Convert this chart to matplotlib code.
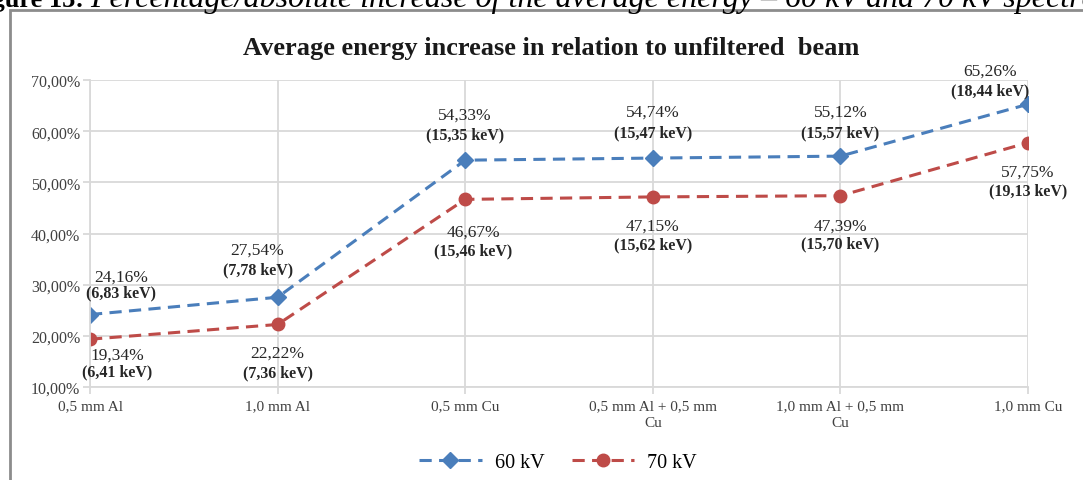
import matplotlib.pyplot as plt
from matplotlib.patches import Rectangle
from matplotlib.lines import Line2D
from matplotlib.ticker import FuncFormatter, MultipleLocator

# filter combinations on the x axis
filters = ["0,5 mm Al", "1,0 mm Al", "0,5 mm Cu",
           "0,5 mm Al + 0,5 mm\nCu", "1,0 mm Al + 0,5 mm\nCu", "1,0 mm Cu"]

# relative increase of the average energy (%) and the absolute value (keV)
inc_60kv = [24.16, 27.54, 54.33, 54.74, 55.12, 65.26]
kev_60kv = [6.83, 7.78, 15.35, 15.47, 15.57, 18.44]
inc_70kv = [19.34, 22.22, 46.67, 47.15, 47.39, 57.75]
kev_70kv = [6.41, 7.36, 15.46, 15.62, 15.70, 19.13]

# label placement in pixels: (dx, dy of the % line, dy of the keV line)
lbl_60kv = [(31, 38, 22), (-20, 48, 28), (0, 46, 26), (0, 46, 26), (0, 44, 24), (-38, 34, 14)]
lbl_70kv = [(27, -15, -32), (0, -28, -48), (8, -32, -51), (0, -29, -47), (0, -30, -48), (0, -29, -48)]

BLUE = "#4A7EBB"
RED = "#BE4B48"
GRID = "#D9D9D9"
TEXT = "#262626"
DASH = (0, (4, 2.4))

plt.rcParams["font.family"] = "Liberation Serif"

fig = plt.figure(figsize=(10.83, 4.81), dpi=100)
ax = fig.add_axes([90 / 1083, 1 - 388 / 481, (1028 - 90) / 1083, (388 - 81) / 481])

x = list(range(len(filters)))
ax.plot(x, inc_60kv, color=BLUE, lw=2.2, ls=DASH, marker="D", ms=8, label="60 kV")
ax.plot(x, inc_70kv, color=RED, lw=2.2, ls=DASH, marker="o", ms=9, label="70 kV")

def add_labels(vals, kevs, offsets):
    for i, (v, k, (dx, dy1, dy2)) in enumerate(zip(vals, kevs, offsets)):
        ax.annotate(f"{v:.2f}%".replace(".", ","), (i, v), xytext=(dx, dy1),
                    textcoords="offset pixels", ha="center", va="center",
                    fontsize=12.5, color=TEXT, annotation_clip=False)
        ax.annotate(f"({k:.2f} keV)".replace(".", ","), (i, v), xytext=(dx, dy2),
                    textcoords="offset pixels", ha="center", va="center",
                    fontsize=11.5, fontweight="bold", color=TEXT,
                    annotation_clip=False)

add_labels(inc_60kv, kev_60kv, lbl_60kv)
add_labels(inc_70kv, kev_70kv, lbl_70kv)

ax.set_xlim(0, len(filters) - 1)
ax.set_ylim(10, 70)
ax.yaxis.set_major_locator(MultipleLocator(10))
ax.yaxis.set_major_formatter(FuncFormatter(lambda v, _: f"{v:.2f}%".replace(".", ",")))
ax.set_xticks(x)
ax.set_xticklabels(filters, fontsize=11, linespacing=1.35)
ax.tick_params(axis="y", labelsize=11.5, length=5, color=GRID, width=1.3, pad=2)
ax.tick_params(axis="x", length=5, color=GRID, width=1.3, pad=4)
for lbl in ax.get_xticklabels() + ax.get_yticklabels():
    lbl.set_color("#404040")

ax.grid(True, color=GRID, lw=1.3)
ax.set_axisbelow(True)
for side in ["top", "right"]:
    ax.spines[side].set_visible(False)
for side in ["left", "bottom"]:
    ax.spines[side].set_color(GRID)
    ax.spines[side].set_linewidth(1.3)

fig.text(551 / 1083, 1 - 48 / 481, "Average energy increase in relation to unfiltered  beam",
         ha="center", va="center", fontsize=19, fontweight="bold", color="#1a1a1a")

# legend below the plot
handles = [Line2D([], [], color=BLUE, lw=2.2, ls=DASH, marker="D", ms=8),
           Line2D([], [], color=RED, lw=2.2, ls=DASH, marker="o", ms=9)]
fig.legend(handles, ["60 kV", "70 kV"], loc="center", bbox_to_anchor=(558 / 1083, 1 - 463 / 481),
           ncol=2, frameon=False, fontsize=14.5, handlelength=3.1, columnspacing=1.35,
           handletextpad=0.65)

# chart border
fig.patches.append(Rectangle((10 / 1083, -0.1), 1.2, 1 - 11 / 481 + 0.1,
                             transform=fig.transFigure, fill=False,
                             ec="#8C8C8C", lw=2, clip_on=False))

# figure caption above the chart, cut at the top edge
fig.text(84 / 1083, 1 - 7 / 481, "Figure 13:", ha="right", va="baseline",
         fontsize=19, fontweight="bold", color="black")
fig.text(90 / 1083, 1 - 7 / 481,
         "Percentage/absolute increase of the average energy \u2013 60 kV and 70 kV spectra",
         ha="left", va="baseline", fontsize=23, style="italic", color="black")

fig.savefig("out.png", dpi=100)
